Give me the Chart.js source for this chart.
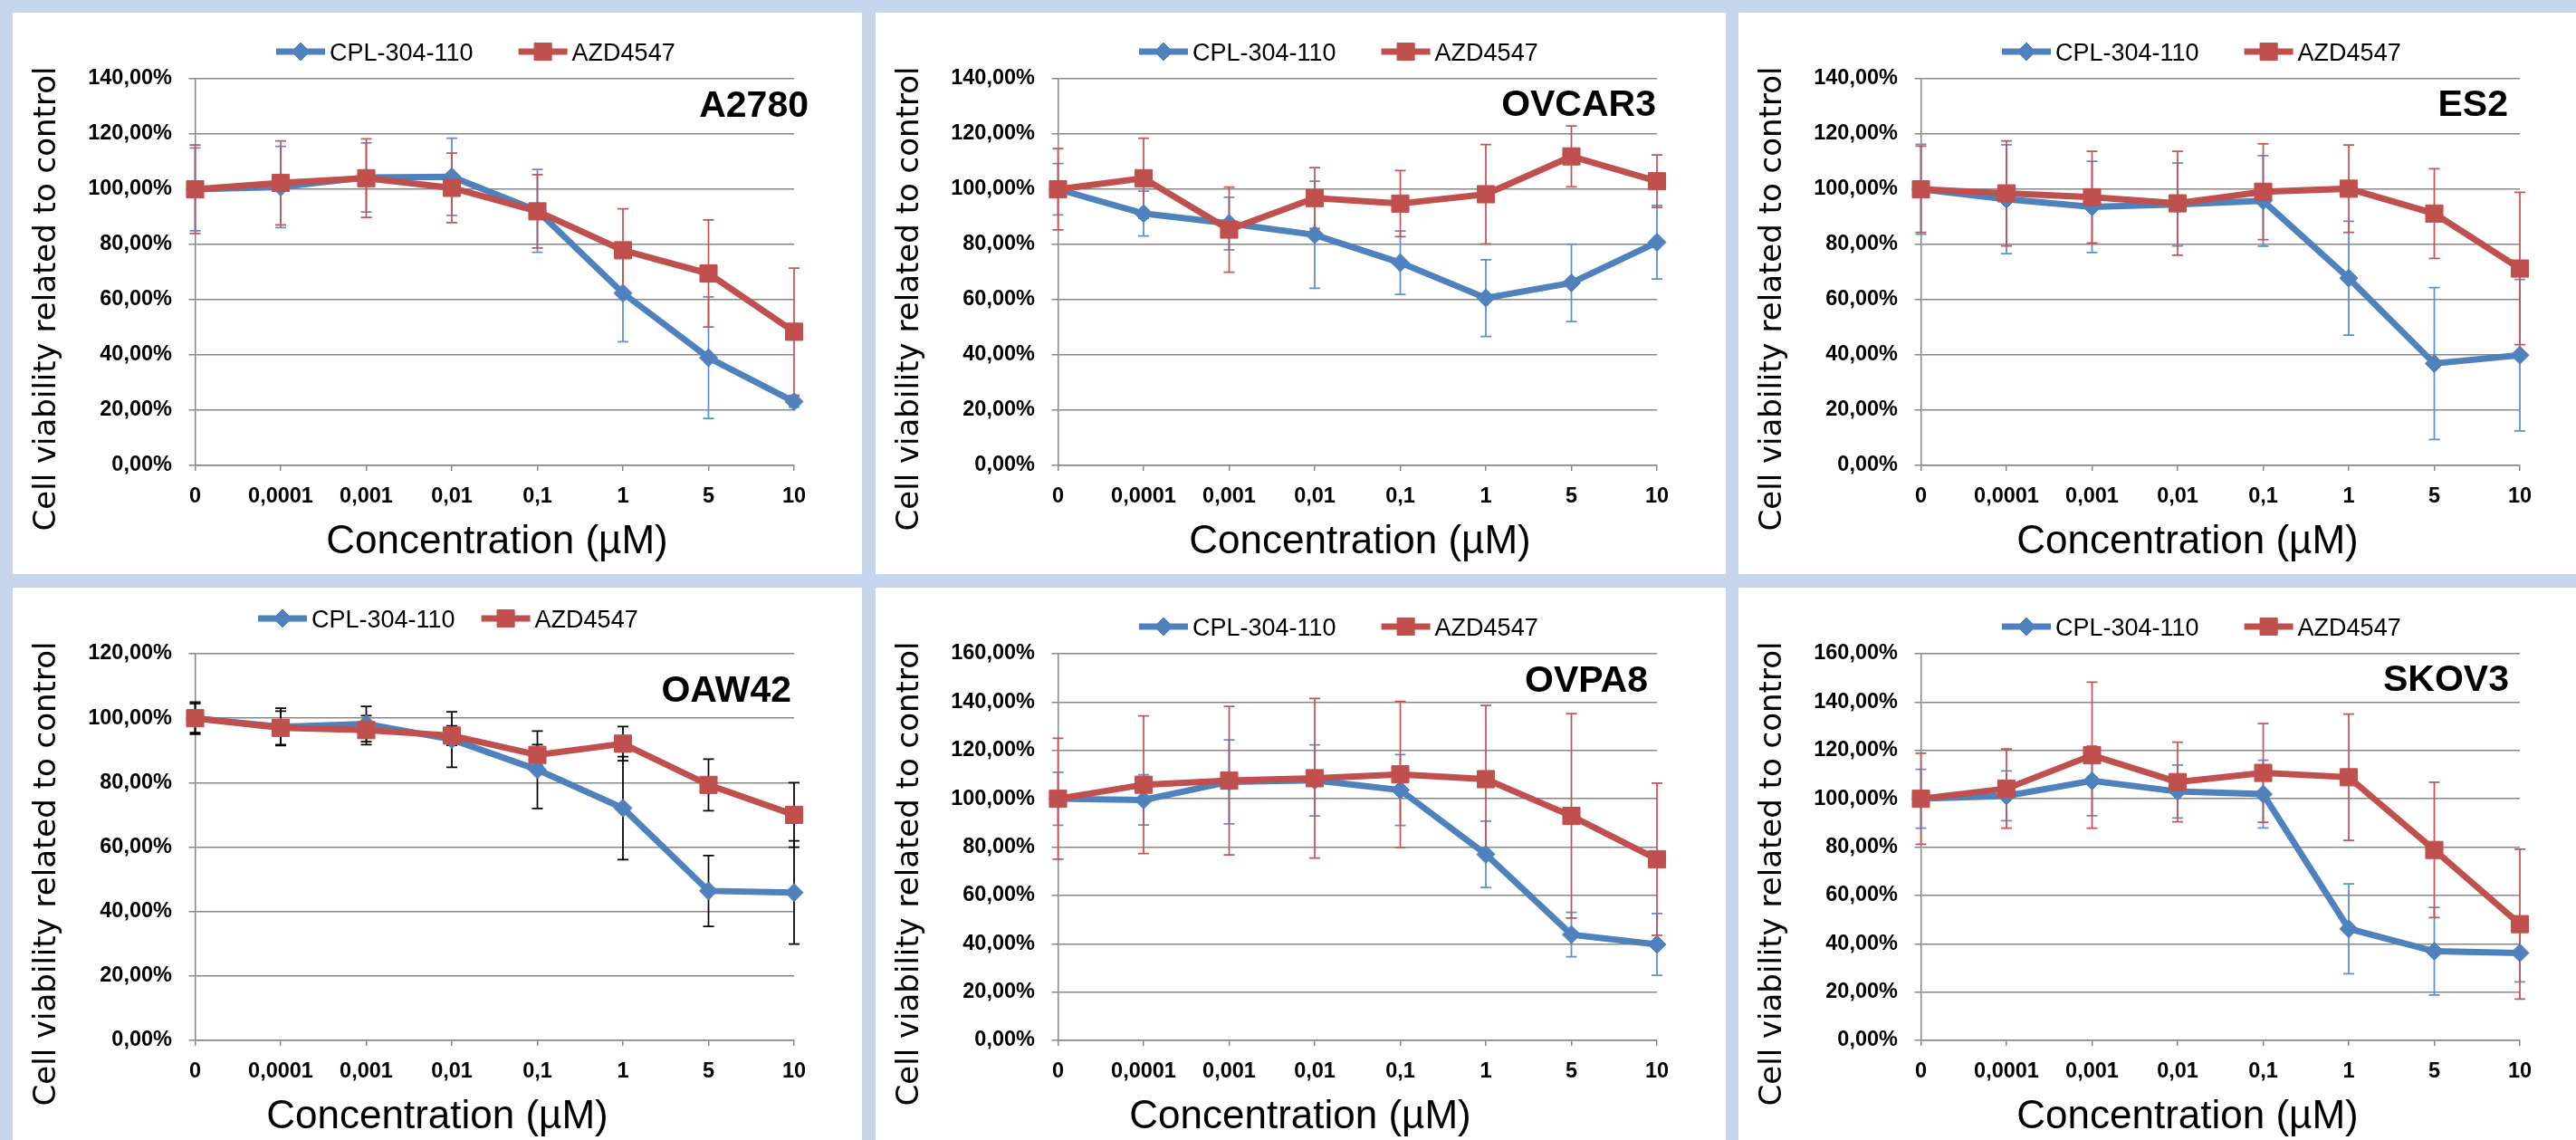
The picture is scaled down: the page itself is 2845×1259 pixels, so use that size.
<!DOCTYPE html>
<html><head><meta charset="utf-8">
<script src="https://cdn.jsdelivr.net/npm/chart.js@4.4.1/dist/chart.umd.min.js"></script>
<style>
html,body{margin:0;padding:0;background:#c6d4ec;width:2845px;height:1259px;overflow:hidden;}
.panel{position:absolute;background:#fff;overflow:hidden;}
.panel canvas{position:absolute;left:0;top:0;}
</style></head><body>
<div class="panel" style="left:14px;top:14px;width:938px;height:620px"><canvas id="c0" width="939" height="620"></canvas></div>
<div class="panel" style="left:967px;top:14px;width:939px;height:620px"><canvas id="c1" width="939" height="620"></canvas></div>
<div class="panel" style="left:1920px;top:14px;width:925px;height:620px"><canvas id="c2" width="939" height="620"></canvas></div>
<div class="panel" style="left:14px;top:649px;width:938px;height:610px"><canvas id="c3" width="939" height="620"></canvas></div>
<div class="panel" style="left:967px;top:649px;width:939px;height:610px"><canvas id="c4" width="939" height="620"></canvas></div>
<div class="panel" style="left:1920px;top:649px;width:925px;height:610px"><canvas id="c5" width="939" height="620"></canvas></div>
<script>
// ---------- data ----------
const categories = ['0', '0,0001', '0,001', '0,01', '0,1', '1', '5', '10'];
const seriesNames = ['CPL-304-110', 'AZD4547'];
const panelNames = ['A2780', 'OVCAR3', 'ES2', 'OAW42', 'OVPA8', 'SKOV3'];
const yMaxes = [140, 140, 140, 120, 160, 160];
const xTitle = 'Concentration (µM)';
const yTitle = 'Cell viability related to control';

const a2780Cpl    = [100, 100.8, 104.3, 104.5, 92.2, 62.4, 39.0, 23.1];
const a2780CplErr = [15, 14.7, 12.5, 14, 15, 17.6, 22, 2];
const a2780Azd    = [100, 102.3, 104.0, 100.5, 92.0, 77.9, 69.5, 48.4];
const a2780AzdErr = [16, 15.2, 14.2, 12.6, 13.3, 15, 19.4, 23];

const ovcar3Cpl    = [100, 91.2, 87.6, 83.5, 73.4, 60.6, 66.1, 80.8];
const ovcar3CplErr = [9.3, 8.1, 9.5, 19.4, 11.5, 13.9, 14, 13.3];
const ovcar3Azd    = [100, 104.0, 85.4, 96.8, 94.8, 98.2, 111.9, 102.9];
const ovcar3AzdErr = [14.7, 14.5, 15.4, 11, 12, 18, 11, 9.5];

const es2Cpl    = [100, 96.4, 93.6, 94.5, 95.8, 67.8, 36.9, 39.9];
const es2CplErr = [16.3, 19.7, 16.5, 15, 16.4, 20.6, 27.5, 27.4];
const es2Azd    = [100, 98.5, 97.1, 94.9, 99.1, 100.2, 91.2, 71.3];
const es2AzdErr = [15.6, 19, 16.6, 18.8, 17.3, 15.8, 16.2, 27.6];

const oaw42Cpl    = [100, 97.3, 98.2, 93.4, 84.0, 72.1, 46.4, 45.9];
const oaw42CplErr = [4.5, 5.8, 5.5, 8.6, 12, 16, 11, 16];
const oaw42Azd    = [100, 97.0, 96.3, 94.6, 88.6, 92.1, 79.3, 70.0];
const oaw42AzdErr = [5, 5.2, 4.5, 3, 3.2, 5.3, 8, 10];

const ovpa8Cpl    = [100, 99.5, 107.0, 107.6, 103.6, 77.0, 43.8, 39.7];
const ovpa8CplErr = [11, 10.4, 17.4, 14.7, 14.7, 13.7, 9.2, 12.8];
const ovpa8Azd    = [100, 105.8, 107.5, 108.5, 110.1, 108.1, 92.9, 75.0];
const ovpa8AzdErr = [25, 28.5, 30.7, 33, 30.2, 30.5, 42.3, 31.5];

const skov3Cpl    = [100, 101.2, 107.4, 103.0, 101.9, 46.2, 36.9, 36.2];
const skov3CplErr = [12.2, 10.3, 14.4, 11, 14, 18.6, 18.1, 12];
const skov3Azd    = [100, 104.2, 118.0, 106.9, 110.7, 108.9, 78.8, 48.1];
const skov3AzdErr = [18.8, 16.4, 30.2, 16.5, 20.4, 26.1, 28, 31];

// ---------- layout / style (kept separate from data) ----------
const BLUE = '#4F81BD', RED = '#C0504D', GRID = '#878787';
const BLUE_ERR = '#5B8FD6', RED_ERR = '#C75553';
const FONT = '"Liberation Sans", Arial, sans-serif';
const panelLayout = [
  {nameRight: 879, nameBase: 115, legendX: 291, legendY: 43, legendGap: 50, xTitleX: 535, err: [BLUE_ERR, RED_ERR]},
  {nameRight: 862, nameBase: 114, legendX: 291, legendY: 43, legendGap: 50, xTitleX: 535, err: [BLUE_ERR, RED_ERR]},
  {nameRight: 850, nameBase: 114, legendX: 291, legendY: 43, legendGap: 50, xTitleX: 496, err: [BLUE_ERR, RED_ERR]},
  {nameRight: 860, nameBase: 126, legendX: 271, legendY: 34, legendGap: 29, xTitleX: 469, err: ['#000', '#000']},
  {nameRight: 853, nameBase: 115, legendX: 291, legendY: 43, legendGap: 50, xTitleX: 469, err: [BLUE_ERR, RED_ERR]},
  {nameRight: 851, nameBase: 114, legendX: 291, legendY: 43, legendGap: 50, xTitleX: 496, err: [BLUE_ERR, RED_ERR]}
];

function pct(v) { return Number(v).toFixed(2).replace('.', ',') + '%'; }

function drawMarker(ctx, style, r, x, y) {
  if (Chart.helpers && Chart.helpers.drawPoint) {
    Chart.helpers.drawPoint(ctx, {pointStyle: style, radius: r, borderWidth: 1, rotation: 0}, x, y);
    return;
  }
  ctx.beginPath();
  if (style === 'rectRot') {
    ctx.moveTo(x - r, y); ctx.lineTo(x, y - r); ctx.lineTo(x + r, y); ctx.lineTo(x, y + r);
  } else {
    const s = r * Math.SQRT1_2; ctx.rect(x - s, y - s, 2 * s, 2 * s);
  }
  ctx.closePath(); ctx.fill(); ctx.stroke();
}

const overlay = {
  id: 'overlay',
  beforeDatasetsDraw(chart, args, opts) {
    const ctx = chart.ctx, xs = chart.scales.x, ys = chart.scales.y;
    chart.data.datasets.forEach((ds, i) => {
      ctx.save();
      ctx.strokeStyle = opts.layout.err[i];
      ctx.lineWidth = 1.75;
      ds.data.forEach((v, j) => {
        const e = ds.errors[j];
        const x = xs.getPixelForValue(j);
        const y1 = ys.getPixelForValue(v + e), y2 = ys.getPixelForValue(v - e);
        ctx.beginPath();
        ctx.moveTo(x, y1); ctx.lineTo(x, y2);
        ctx.moveTo(x - 6, y1); ctx.lineTo(x + 6, y1);
        ctx.moveTo(x - 6, y2); ctx.lineTo(x + 6, y2);
        ctx.stroke();
      });
      ctx.restore();
    });
  },
  afterDraw(chart, args, opts) {
    const ctx = chart.ctx, L = opts.layout;
    ctx.save();
    ctx.fillStyle = '#000';
    ctx.textBaseline = 'alphabetic';
    // cell line name
    ctx.font = 'bold 41px ' + FONT;
    ctx.textAlign = 'right';
    ctx.fillText(opts.name, L.nameRight, L.nameBase);
    // x title
    ctx.font = '44px ' + FONT;
    ctx.textAlign = 'center';
    ctx.fillText(xTitle, L.xTitleX, 597);
    // y title
    ctx.save();
    ctx.translate(47.4, 316);
    ctx.rotate(-Math.PI / 2);
    ctx.font = '34px "DejaVu Sans", sans-serif';
    ctx.fillText(yTitle, 0, 0);
    ctx.restore();
    // legend
    let x = L.legendX;
    const cy = L.legendY;
    ctx.font = '27px ' + FONT;
    ctx.textAlign = 'left';
    chart.data.datasets.forEach(ds => {
      ctx.strokeStyle = ds.borderColor;
      ctx.lineWidth = ds.borderWidth;
      ctx.beginPath(); ctx.moveTo(x, cy); ctx.lineTo(x + 54, cy); ctx.stroke();
      ctx.fillStyle = ds.pointBackgroundColor;
      ctx.strokeStyle = ds.pointBorderColor;
      ctx.lineWidth = 1;
      drawMarker(ctx, ds.pointStyle, ds.pointRadius, x + 27, cy);
      ctx.fillStyle = '#000';
      ctx.fillText(ds.label, x + 59, cy + 9.5);
      x += 59 + ctx.measureText(ds.label).width + L.legendGap;
    });
    ctx.restore();
  }
};

const panelData = [
  [a2780Cpl, a2780CplErr, a2780Azd, a2780AzdErr],
  [ovcar3Cpl, ovcar3CplErr, ovcar3Azd, ovcar3AzdErr],
  [es2Cpl, es2CplErr, es2Azd, es2AzdErr],
  [oaw42Cpl, oaw42CplErr, oaw42Azd, oaw42AzdErr],
  [ovpa8Cpl, ovpa8CplErr, ovpa8Azd, ovpa8AzdErr],
  [skov3Cpl, skov3CplErr, skov3Azd, skov3AzdErr]
];

panelData.forEach((d, i) => {
  new Chart(document.getElementById('c' + i), {
    type: 'line',
    data: {
      labels: categories,
      datasets: [
        {label: seriesNames[0], data: d[0], errors: d[1], borderColor: BLUE, backgroundColor: BLUE,
         pointBackgroundColor: BLUE, pointBorderColor: BLUE, borderWidth: 7, pointStyle: 'rectRot',
         pointRadius: 10, pointHoverRadius: 10, pointBorderWidth: 1, tension: 0, order: 1, clip: false},
        {label: seriesNames[1], data: d[2], errors: d[3], borderColor: RED, backgroundColor: RED,
         pointBackgroundColor: RED, pointBorderColor: RED, borderWidth: 7, pointStyle: 'rect',
         pointRadius: 13.5, pointHoverRadius: 13.5, pointBorderWidth: 1, tension: 0, order: 0, clip: false}
      ]
    },
    options: {
      responsive: false, animation: false, devicePixelRatio: 1,
      events: [],
      layout: {padding: {left: 0, right: 76, top: 73, bottom: 0}},
      plugins: {
        legend: {display: false}, tooltip: {enabled: false},
        overlay: {name: panelNames[i], layout: panelLayout[i]}
      },
      scales: {
        x: {
          type: 'category', offset: false,
          afterFit: s => { s.height = 120; },
          grid: {drawOnChartArea: false, drawTicks: true, tickLength: 6, color: GRID, lineWidth: 1.5},
          border: {display: true, color: GRID, width: 1.5},
          ticks: {color: '#000', padding: 14.8, maxRotation: 0, autoSkip: false,
                  font: {family: FONT, size: 23.5, weight: 'bold'}}
        },
        y: {
          min: 0, max: yMaxes[i],
          afterFit: s => { s.width = 201.5; },
          grid: {color: GRID, lineWidth: 1.5, tickLength: 7, drawTicks: true},
          border: {display: true, color: GRID, width: 1.5},
          ticks: {stepSize: 20, callback: pct, color: '#000', padding: 18.5,
                  font: {family: FONT, size: 23.5, weight: 'bold'}}
        }
      }
    },
    plugins: [overlay]
  });
});
</script>
</body></html>
